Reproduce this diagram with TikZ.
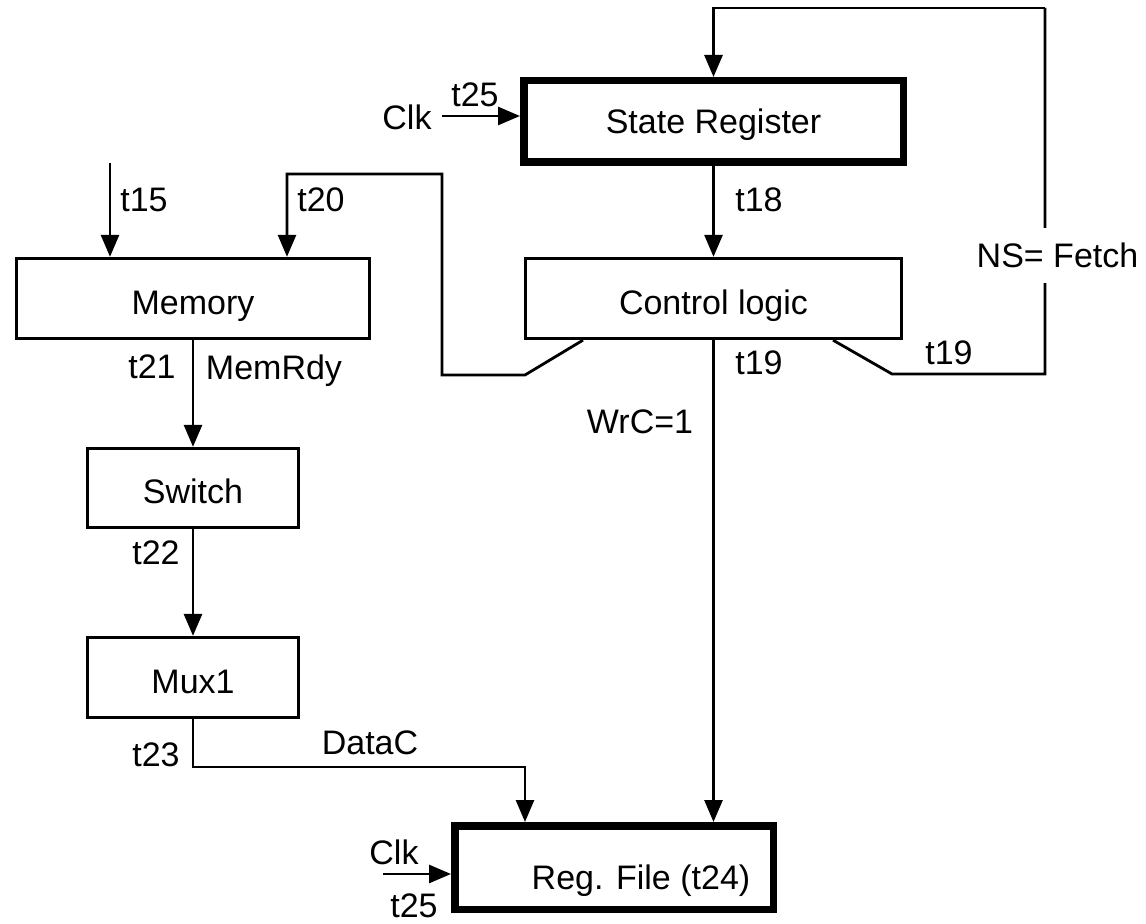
\documentclass[tikz,border=0pt]{standalone}
\usepackage{fontspec}
\setmainfont{Liberation Sans}
\usetikzlibrary{arrows.meta, positioning, calc}

\begin{document}
\begin{tikzpicture}[
        x=0.5pt, y=-0.5pt,
        every node/.style={font=\fontsize{17pt}{20pt}\selectfont},
        block/.style={rectangle, draw=black, line width=1.4pt, minimum height=40.25pt, text height=16pt, text depth=0pt, align=center},
        regbox/.style={rectangle, draw=black, line width=3.75pt, minimum height=40.75pt, text height=12pt, text depth=0pt, align=center},
        lbl/.style={inner sep=0pt, text depth=0pt},
        nsbreak/.style={fill=white, inner sep=7.5pt, text depth=0pt, xshift=6.25pt},
        line/.style={draw, line width=1.4pt, -{Triangle[length=11pt,width=9pt]}},
        wire/.style={draw, line width=1.4pt}
    ]
        \useasboundingbox (0,0) rectangle (1146,924);

        \node[regbox, minimum width=189.75pt] (sreg) at (713.5,121.5) {State Register};
        \node[block, minimum width=188.25pt] (ctrl) at (713.5,298.5) {Control logic};
        \node[block, minimum width=176.25pt] (mem) at (193,298.5) {Memory};
        \node[block, minimum width=105.25pt, minimum height=39.75pt] (sw) at (193,488) {Switch};
        \node[block, minimum width=105.25pt] (mux) at (193,677.5) {Mux1};
        \node[regbox, minimum width=159.25pt, minimum height=41.75pt] (rf) at (614,867.5) {\hspace*{27pt}\raisebox{-5pt}{Reg. File (t24)}};

        \coordinate (clkS) at (442,116);
        \coordinate (clkR) at (383,874);
        \coordinate (memin) at (110,163);
        \coordinate (adrA) at (525,375);
        \coordinate (adrB) at (442,174);
        \coordinate (nsA) at (892,374);
        \coordinate (nsC) at (1045,374);
        \coordinate (nsB) at (1045,8);
        \coordinate (dcturn) at (525,767);

        % clocks
        \draw[line] (clkS) -- (clkS -| sreg.west);
        \draw[line] (clkR) -- (clkR -| rf.west);

        % state register loop
        \draw[line] (sreg.south) -- (ctrl.north);
        \draw[wire] ($(ctrl.south)+(119.5,0)$) -- (nsA) -- (nsC)
            -- node[nsbreak, pos=.324] (nsfetch) {NS= Fetch} (nsB);
        \draw[line] (nsB) -| (sreg.north);
        \draw[line] ($(ctrl.south)+(-130.5,0)$) -- (adrA) -| (adrB) -| ($(mem.north)+(94,0)$);
        \draw[line] (ctrl.south) -- (ctrl.south |- rf.north);

        % datapath
        \draw[line] (memin) -- (memin |- mem.north);
        \draw[line] (mem.south) -- (sw.north);
        \draw[line] (sw.south) -- (mux.north);
        \draw[line] (mux.south) |- (dcturn) -- (dcturn |- rf.north);

        \node[lbl] (clkSl) at (407,117) {Clk};
        \node[lbl] (t25S) at (475,95) {t25};
        \node[lbl] (t15) at (144,200) {t15};
        \node[lbl] (t20) at (321,200) {t20};
        \node[lbl] (t18) at (759,200) {t18};
        \node[lbl] (t19r) at (949,353) {t19};
        \node[lbl] (t19m) at (759,363) {t19};
        \node[lbl] (wrc) at (640,422) {WrC=1};
        \node[lbl] (t21) at (152,367) {t21};
        \node[lbl] (memrdy) at (274,367) {MemRdy};
        \node[lbl] (t22) at (156,553) {t22};
        \node[lbl] (t23) at (156,755) {t23};
        \node[lbl] (datac) at (370,743) {DataC};
        \node[lbl] (clkRl) at (394,852) {Clk};
        \node[lbl] (t25R) at (414,906) {t25};

    \end{tikzpicture}
\end{document}
